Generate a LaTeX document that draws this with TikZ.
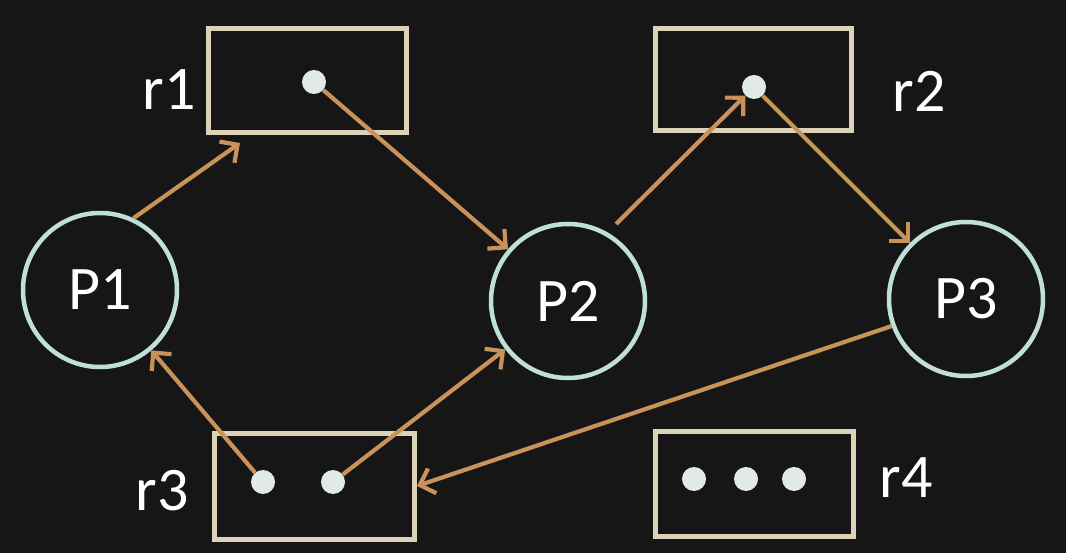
\documentclass[tikz,border=0pt]{standalone}
\usepackage{fontspec}
\setmainfont{Carlito}
\usepackage{tikz}
\usetikzlibrary{arrows.meta}
\definecolor{bgcol}{HTML}{161616}
\definecolor{proccol}{HTML}{BFDFD8}
\definecolor{boxcol}{HTML}{DCD2B8}
\definecolor{edgecol}{HTML}{C8925A}
\definecolor{dotcol}{HTML}{E2EAE6}
\tikzset{proc/.style={shape=circle, draw=proccol, line width=4.5pt,
    minimum size=154pt, inner sep=0pt, text=white,
    font=\fontsize{62}{70}\selectfont}}
\tikzset{res/.style={shape=rectangle, draw=boxcol, line width=5pt, inner sep=0pt}}
\tikzset{inst/.style={shape=circle, fill=dotcol, minimum size=24pt, inner sep=0pt}}
\tikzset{lbl/.style={anchor=base, text=white, font=\fontsize{62}{70}\selectfont}}
\tikzset{req/.style={draw=edgecol, line width=4.2pt,
    -{Straight Barb[length=13pt,width=26pt]}}}

\begin{document}
\begin{tikzpicture}[x=1pt, y=-1pt]

            \fill[bgcol] (0,0) rectangle (1066,553);
            \useasboundingbox (0,0) rectangle (1066,553);

            \node[proc] (P1) at (100,290) {P1};
            \node[proc] (P2) at (568,301) {P2};
            \node[proc] (P3) at (966,299) {P3};

            \node[res, minimum width=198pt, minimum height=104pt] (r1) at (307,81) {};
            \node[res, minimum width=196pt, minimum height=102pt] (r2) at (753,80) {};
            \node[res, minimum width=200pt, minimum height=106pt] (r3) at (314.5,486) {};
            \node[res, minimum width=198pt, minimum height=105pt] (r4) at (754,483.5) {};

            \node[lbl] (l1) at (169,110) {r1};
            \node[lbl] (l2) at (919,112) {r2};
            \node[lbl] (l3) at (162,510) {r3};
            \node[lbl] (l4) at (906,497) {r4};

            \node[inst] (d1) at (314,82) {};
            \node[inst] (d2) at (754,87) {};
            \node[inst] (d3a) at (263,482) {};
            \node[inst] (d3b) at (333,482) {};
            \node[inst] (d4a) at (694,479) {};
            \node[inst] (d4b) at (746,479) {};
            \node[inst] (d4c) at (794,479) {};

            \coordinate (t1) at (240,143);

            \draw[req] (P1.65) -- (t1);
            \draw[req] (d1) -- (P2);
            \draw[req, shorten <=12pt] (P2.60) -- (d2);
            \draw[req] (d2) -- (P3);
            \draw[req] (d3a) -- (P1);
            \draw[req] (d3b) -- (P2);
            \draw[req] (P3.200) -- (r3.east);

\end{tikzpicture}
\end{document}
